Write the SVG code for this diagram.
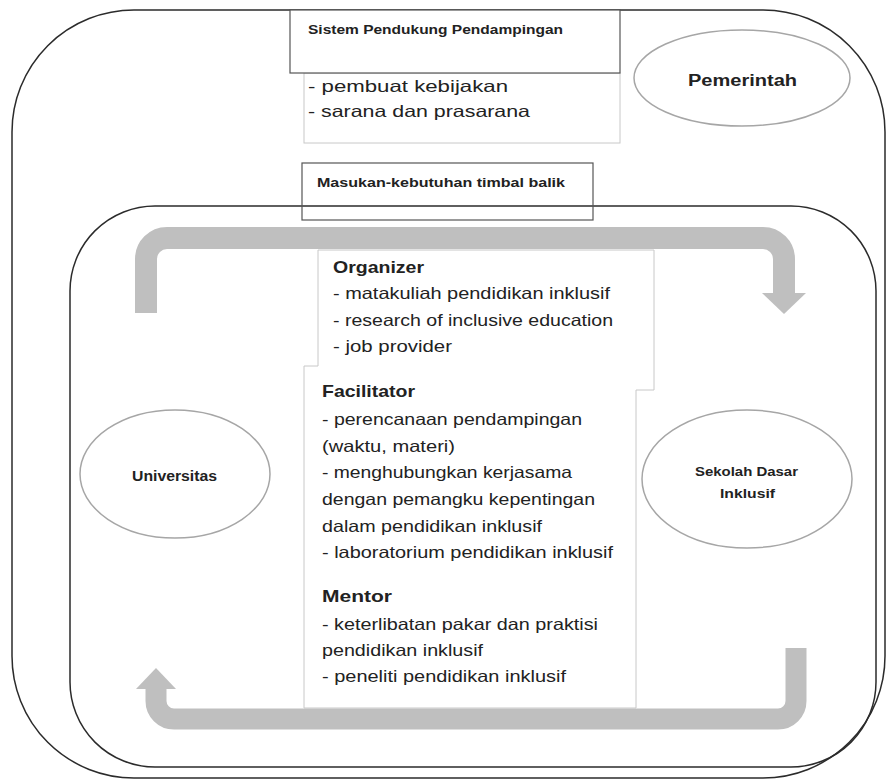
<svg xmlns="http://www.w3.org/2000/svg" width="887" height="780" viewBox="0 0 887 780">
<style>
  .frame{fill:none;stroke:#2b2b2b;stroke-width:1.5}
  .ell{fill:#fff;stroke:#a6a6a6;stroke-width:1.5}
  .lbl{font-family:"Liberation Sans",Arial,sans-serif;font-weight:bold;fill:#222}
  .body{font-family:"Liberation Sans",Arial,sans-serif;font-size:16.5px;fill:#222}
  .head{font-family:"Liberation Sans",Arial,sans-serif;font-size:17px;font-weight:bold;fill:#222}
  .band{fill:none;stroke:#bfbfbf;stroke-width:22;stroke-linecap:butt}
  .head-arrow{fill:#bfbfbf}
</style>
<rect width="887" height="780" fill="#fff"/>
<g id="outer-frame"><rect class="frame" x="12" y="10" width="873" height="768" rx="122" ry="122"/></g>
<g id="inner-frame"><rect class="frame" x="70" y="206" width="806" height="561" rx="85" ry="85"/></g>

<g id="sistem-pendukung">
  <rect x="304" y="73" width="316" height="70" fill="#fff" stroke="#c8c8c8" stroke-width="1"/>
  <rect x="290" y="10" width="330" height="63" fill="#fff" stroke="#555" stroke-width="1.2"/>
  <text class="lbl" x="308" y="34" font-size="13.5" textLength="255" lengthAdjust="spacingAndGlyphs">Sistem Pendukung Pendampingan</text>
  <text class="body" x="308" y="92" textLength="200" lengthAdjust="spacingAndGlyphs">- pembuat kebijakan</text>
  <text class="body" x="308" y="117" textLength="222" lengthAdjust="spacingAndGlyphs">- sarana dan prasarana</text>
</g>

<g id="pemerintah">
  <ellipse class="ell" cx="742" cy="78" rx="108" ry="48"/>
  <text class="lbl" x="688" y="86" font-size="16" textLength="109" lengthAdjust="spacingAndGlyphs">Pemerintah</text>
</g>

<g id="masukan">
  <rect x="302" y="163" width="291" height="57" fill="none" stroke="#555" stroke-width="1.2"/>
  <text class="lbl" x="317" y="187" font-size="12.5" textLength="248" lengthAdjust="spacingAndGlyphs">Masukan-kebutuhan timbal balik</text>
</g>

<g id="roles">
  <path d="M318,250 V366 H304 V708 H636 V390 H654 V250 Z" fill="#fff" stroke="#c8c8c8" stroke-width="1"/>
  <text class="head" x="333" y="273" textLength="91" lengthAdjust="spacingAndGlyphs">Organizer</text>
  <text class="body" x="333" y="299" textLength="277" lengthAdjust="spacingAndGlyphs">- matakuliah pendidikan inklusif</text>
  <text class="body" x="333" y="326" textLength="280" lengthAdjust="spacingAndGlyphs">- research of inclusive education</text>
  <text class="body" x="333" y="352" textLength="119" lengthAdjust="spacingAndGlyphs">- job provider</text>

  <text class="head" x="322" y="397" textLength="93" lengthAdjust="spacingAndGlyphs">Facilitator</text>
  <text class="body" x="322" y="425" textLength="260" lengthAdjust="spacingAndGlyphs">- perencanaan pendampingan</text>
  <text class="body" x="322" y="452" textLength="133" lengthAdjust="spacingAndGlyphs">(waktu, materi)</text>
  <text class="body" x="322" y="478" textLength="250" lengthAdjust="spacingAndGlyphs">- menghubungkan kerjasama</text>
  <text class="body" x="322" y="505" textLength="273" lengthAdjust="spacingAndGlyphs">dengan pemangku kepentingan</text>
  <text class="body" x="322" y="532" textLength="220" lengthAdjust="spacingAndGlyphs">dalam pendidikan inklusif</text>
  <text class="body" x="322" y="558" textLength="291" lengthAdjust="spacingAndGlyphs">- laboratorium pendidikan inklusif</text>

  <text class="head" x="322" y="602" textLength="70" lengthAdjust="spacingAndGlyphs">Mentor</text>
  <text class="body" x="322" y="630" textLength="276" lengthAdjust="spacingAndGlyphs">- keterlibatan pakar dan praktisi</text>
  <text class="body" x="322" y="656" textLength="161" lengthAdjust="spacingAndGlyphs">pendidikan inklusif</text>
  <text class="body" x="322" y="682" textLength="244" lengthAdjust="spacingAndGlyphs">- peneliti pendidikan inklusif</text>
</g>

<g id="universitas">
  <ellipse class="ell" cx="175" cy="474" rx="95" ry="64"/>
  <text class="lbl" x="132" y="481" font-size="14" textLength="85" lengthAdjust="spacingAndGlyphs">Universitas</text>
</g>

<g id="sekolah">
  <ellipse class="ell" cx="747" cy="479" rx="105" ry="69"/>
  <text class="lbl" x="695" y="476" font-size="13.5" textLength="103" lengthAdjust="spacingAndGlyphs">Sekolah Dasar</text>
  <text class="lbl" x="720" y="498" font-size="13.5" textLength="55" lengthAdjust="spacingAndGlyphs">Inklusif</text>
</g>

<g id="connectors">
  <path class="band" d="M146,313 V259 A21,21 0 0 1 167,238 H763 A21,21 0 0 1 784,259 V294"/>
  <polygon class="head-arrow" points="762,293 806,293 784,314"/>
  <path class="band" d="M796,648 V701 A18,18 0 0 1 778,719 H174 A18,18 0 0 1 156,701 V688" style="stroke-width:21"/>
  <polygon class="head-arrow" points="136,689 176,689 156,668"/>
</g>
</svg>
